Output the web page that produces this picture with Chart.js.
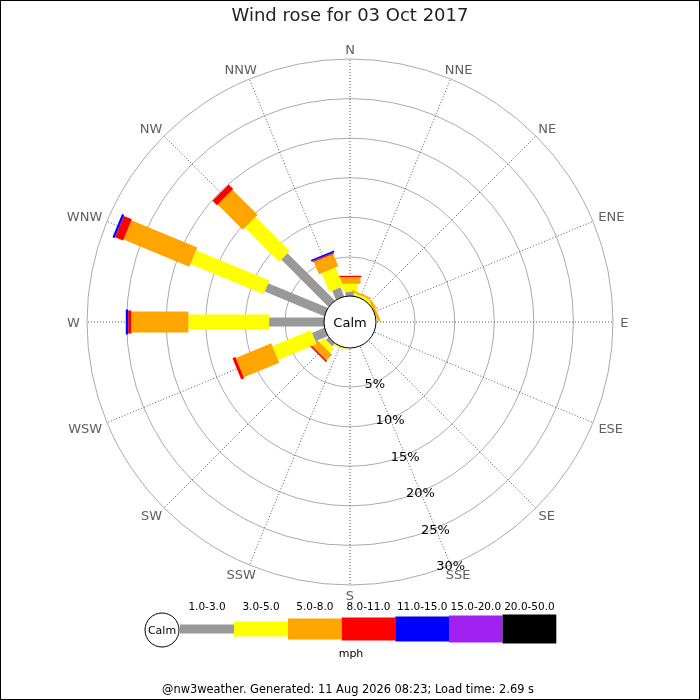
<!DOCTYPE html>
<html>
<head>
<meta charset="utf-8">
<script src="https://cdn.jsdelivr.net/npm/chart.js@4.4.0/dist/chart.umd.min.js"></script>
<style>
  body { margin: 0; background: #fff; }
  canvas { display: block; }
</style>
</head>
<body>
<canvas id="roseChart" width="700" height="700"></canvas>
<script>
  // directions, clockwise from north
  const directions = ['N', 'NNE', 'NE', 'ENE', 'E', 'ESE', 'SE', 'SSE',
                      'S', 'SSW', 'SW', 'WSW', 'W', 'WNW', 'NW', 'NNW'];
  const speedBins = ['1.0-3.0', '3.0-5.0', '5.0-8.0', '8.0-11.0', '11.0-15.0', '15.0-20.0', '20.0-50.0'];
  const ringTicks = [5, 10, 15, 20, 25, 30];

  // % of the day in each speed band (mph), per direction
  const mph1to3   = [0.6, 0.1, 0.1, 0.05, 0, 0, 0, 0, 0, 0.1, 0.55, 1.75, 7.0, 8.2, 8.5, 1.3];
  const mph3to5   = [1.0, 0.3, 0.3, 0.05, 0, 0, 0, 0, 0, 0.2, 0.75, 5.25, 10.2, 10.0, 6.1, 2.55];
  const mph5to8   = [0.85, 0.2, 0.1, 0.3, 0, 0, 0, 0, 0, 0, 1.0, 4.85, 7.2, 9.0, 4.5, 1.7];
  const mph8to11  = [0.17, 0, 0, 0, 0, 0, 0, 0, 0, 0, 0.2, 0.4, 0.4, 1.1, 0.8, 0.15];
  const mph11to15 = [0, 0, 0, 0, 0, 0, 0, 0, 0, 0, 0, 0, 0.3, 0.3, 0, 0.2];
  const mph15to20 = [0, 0, 0, 0, 0, 0, 0, 0, 0, 0, 0, 0, 0, 0, 0, 0];
  const mph20to50 = [0, 0, 0, 0, 0, 0, 0, 0, 0, 0, 0, 0, 0, 0, 0, 0];

  const binData = [mph1to3, mph3to5, mph5to8, mph8to11, mph11to15, mph15to20, mph20to50];
  const binColours = ['#999999', '#ffff00', '#ffa500', '#ff0000', '#0000ff', '#a020f0', '#000000'];
  const binWidths = [9, 15, 21, 23, 25, 27, 29];

  const FONT = 'DejaVu Sans';

  function sgn(v) {
    return Math.abs(v) < 1e-6 ? 0 : Math.sign(v);
  }

  const rosePlugin = {
    id: 'rose',
    afterDatasetsDraw(chart) {
      const ctx = chart.ctx;
      const r = chart.scales.r;
      ctx.save();

      // stacked bars, one segment per speed band
      ctx.lineCap = 'butt';
      directions.forEach((d, i) => {
        let base = 0;
        binData.forEach((arr, k) => {
          const v = arr[i];
          if (v > 0) {
            const p0 = r.getPointPositionForValue(i, base);
            const p1 = r.getPointPositionForValue(i, base + v);
            ctx.beginPath();
            ctx.moveTo(p0.x, p0.y);
            ctx.lineTo(p1.x, p1.y);
            ctx.lineWidth = binWidths[k];
            ctx.strokeStyle = binColours[k];
            ctx.stroke();
          }
          base += v;
        });
      });

      // calm circle
      const calmR = r.getDistanceFromCenterForValue(0) + 0.5;
      ctx.beginPath();
      ctx.arc(r.xCenter, r.yCenter, calmR, 0, Math.PI * 2);
      ctx.fillStyle = '#fff';
      ctx.fill();
      ctx.lineWidth = 1;
      ctx.strokeStyle = '#000';
      ctx.stroke();
      ctx.fillStyle = '#000';
      ctx.font = '13px "' + FONT + '"';
      ctx.textAlign = 'center';
      ctx.textBaseline = 'alphabetic';
      ctx.fillText('Calm', r.xCenter, r.yCenter + 5);

      // ring labels along SSE
      ringTicks.forEach(t => {
        const p = r.getPointPositionForValue(7, t);
        ctx.fillText(t + '%', p.x, p.y + 5.5);
      });

      // compass labels
      ctx.fillStyle = '#606060';
      directions.forEach((d, i) => {
        const a = i * Math.PI / 8;
        const w = ctx.measureText(d).width;
        const p = r.getPointPosition(i, r.drawingArea + 7.5);
        const x = p.x + Math.sin(a) * 0.95 * w / 2;
        const y = p.y - sgn(Math.cos(a)) * 2.3;
        ctx.fillText(d, x, y + 4.7);
      });
      ctx.restore();
    },
    afterDraw(chart) {
      const ctx = chart.ctx;
      ctx.save();

      // speed legend
      const edges = [180, 234, 288, 341.7, 395.3, 449, 502.6, 556.3];
      const legY = 629;
      ctx.font = '10.5px "' + FONT + '"';
      ctx.textAlign = 'center';
      ctx.textBaseline = 'middle';
      speedBins.forEach((lab, k) => {
        ctx.fillStyle = binColours[k];
        ctx.fillRect(edges[k], legY - binWidths[k] / 2, edges[k + 1] - edges[k], binWidths[k]);
        ctx.fillStyle = '#000';
        ctx.fillText(lab, (edges[k] + edges[k + 1]) / 2, 607);
      });
      ctx.beginPath();
      ctx.arc(162, 630, 17, 0, Math.PI * 2);
      ctx.fillStyle = '#fff';
      ctx.fill();
      ctx.strokeStyle = '#000';
      ctx.lineWidth = 1;
      ctx.stroke();
      ctx.fillStyle = '#000';
      ctx.font = '11px "' + FONT + '"';
      ctx.fillText('Calm', 162, 631);
      ctx.fillText('mph', 351, 654);

      // footer
      ctx.font = '11.4px "' + FONT + '"';
      ctx.fillText('@nw3weather. Generated: 11 Aug 2026 08:23; Load time: 2.69 s', 348, 690);

      // frame
      ctx.strokeStyle = '#000';
      ctx.strokeRect(0.5, 0.5, 699, 699);
      ctx.restore();
    }
  };

  const ctx1 = document.getElementById('roseChart').getContext('2d');
  const roseChart = new Chart(ctx1, {
    type: 'radar',
    data: {
      labels: directions,
      datasets: binData.map((arr, k) => ({
        label: speedBins[k],
        data: arr,
        showLine: false,
        pointRadius: 0,
        borderWidth: 0,
        fill: false
      }))
    },
    options: {
      responsive: false,
      animation: false,
      layout: {
        padding: { left: 87, right: 87, top: 0, bottom: 115 }
      },
      plugins: {
        legend: { display: false },
        tooltip: { enabled: false },
        title: {
          display: true,
          text: 'Wind rose for 03 Oct 2017',
          color: '#222',
          font: { family: FONT, size: 18, weight: 'normal' },
          padding: { top: 6, bottom: 31.4 }
        }
      },
      scales: {
        r: {
          min: -3.22,
          max: 30,
          bounds: 'data',
          startAngle: 0,
          afterBuildTicks: scale => {
            scale.ticks = ringTicks.map(v => ({ value: v }));
          },
          ticks: { display: false },
          pointLabels: { display: false },
          grid: { circular: true, color: '#aaa', lineWidth: 1 },
          angleLines: { color: '#555', lineWidth: 1, borderDash: [1, 2] }
        }
      }
    },
    plugins: [rosePlugin]
  });
</script>
</body>
</html>
